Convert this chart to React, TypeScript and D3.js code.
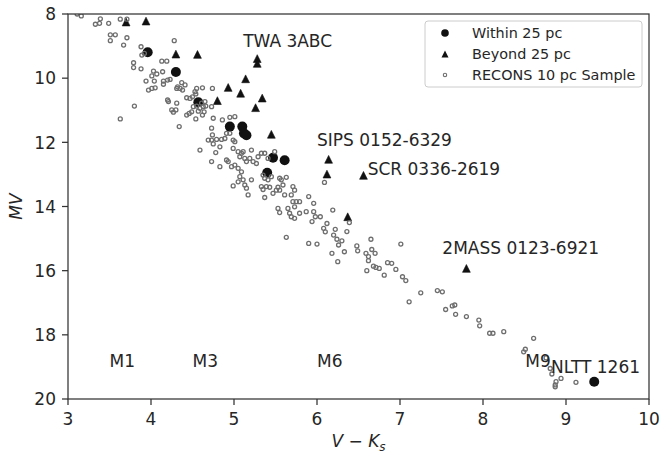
import React from 'react';
import * as d3 from 'd3';

const xTicks = [3, 4, 5, 6, 7, 8, 9, 10];
const yTicks = [8, 10, 12, 14, 16, 18, 20];

const withinPts: [number, number][] = [
  [3.96, 9.19], [4.30, 9.81], [4.57, 10.75], [4.95, 11.51], [5.10, 11.51],
  [5.12, 11.72], [5.15, 11.78], [5.47, 12.48], [5.61, 12.56], [5.40, 12.95],
  [9.34, 19.46],
];

const beyondPts: [number, number][] = [
  [3.70, 8.25], [3.94, 8.22], [4.30, 9.25], [4.56, 9.26], [5.28, 9.39], [5.28, 9.54],
  [4.93, 10.29], [5.14, 10.02], [5.08, 10.47], [5.34, 10.62], [5.26, 10.92],
  [4.80, 10.70], [5.45, 11.75], [6.14, 12.53], [6.12, 12.99], [6.56, 13.03],
  [6.37, 14.32], [7.80, 15.93],
];

const reconsPts: [number, number][] = [
  [3.11, 8.00], [3.16, 8.06], [3.33, 8.32], [3.38, 8.29], [3.39, 8.15], [3.49, 8.29],
  [3.63, 8.16], [3.71, 8.16], [3.51, 8.65], [3.51, 8.83], [3.57, 8.65], [3.67, 8.97],
  [3.71, 8.74], [3.88, 9.02], [3.89, 9.28], [3.92, 9.23], [3.79, 9.52], [3.79, 9.67],
  [3.88, 9.71], [3.94, 10.09], [3.97, 10.37], [4.01, 10.32], [4.05, 10.30], [4.04, 10.09],
  [4.03, 9.78], [4.01, 9.93], [4.07, 9.87], [4.13, 9.47], [4.19, 9.47], [4.14, 9.80],
  [4.15, 10.09], [4.15, 10.19], [4.20, 10.06], [4.23, 10.04], [4.28, 8.83], [3.80, 10.87],
  [3.63, 11.27], [4.32, 10.27], [4.31, 10.32], [4.37, 10.14], [4.35, 10.32], [4.38, 10.37],
  [4.41, 10.21], [4.20, 10.68], [4.21, 10.73], [4.25, 10.99], [4.27, 11.06], [4.30, 10.99],
  [4.31, 10.78], [4.34, 11.51], [4.43, 10.61], [4.47, 10.63], [4.50, 10.58], [4.53, 10.42],
  [4.54, 10.49], [4.55, 10.32], [4.62, 10.30], [4.43, 11.15], [4.46, 11.10], [4.49, 11.05],
  [4.51, 10.89], [4.55, 10.87], [4.57, 11.03], [4.59, 10.94], [4.62, 11.15], [4.64, 11.05],
  [4.63, 10.89], [4.65, 10.73], [4.61, 10.78], [4.66, 10.87], [4.73, 10.89], [4.74, 10.32],
  [4.54, 11.27],
  [4.75, 11.25], [4.73, 11.56], [4.86, 11.30], [4.95, 11.22], [5.01, 11.20], [4.74, 11.77],
  [4.69, 11.93], [4.73, 11.93], [4.79, 11.91], [4.75, 12.05], [4.83, 12.14], [4.85, 11.91],
  [4.89, 11.88], [4.91, 11.72], [4.95, 11.72], [4.99, 11.93], [5.01, 11.98], [4.99, 12.19],
  [5.05, 12.29], [5.09, 12.34], [5.11, 12.29], [5.07, 12.45], [5.13, 12.50], [5.15, 12.60],
  [5.19, 12.50], [5.21, 12.24], [5.23, 12.60], [5.27, 12.66], [5.29, 12.45], [5.33, 12.34],
  [5.37, 12.34], [5.41, 12.50], [5.49, 12.29], [5.35, 13.02], [5.37, 13.12], [5.41, 13.17],
  [5.45, 13.07], [5.55, 13.12], [5.57, 13.17], [5.63, 13.09], [4.59, 12.24], [4.78, 12.32],
  [4.73, 12.60], [4.83, 12.76], [4.91, 12.55], [4.93, 12.60], [4.97, 12.76], [5.01, 12.71],
  [5.05, 12.81], [5.09, 12.92], [5.07, 13.07], [5.11, 13.17], [5.05, 13.23], [4.99, 13.36],
  [5.13, 13.33], [5.15, 13.43], [5.17, 13.64], [5.21, 13.17], [5.33, 13.38], [5.35, 13.47],
  [5.39, 13.38], [5.43, 13.40], [5.37, 13.72], [5.47, 13.59], [5.51, 13.49], [5.53, 13.40],
  [5.55, 13.49], [5.59, 13.33], [5.61, 13.64], [5.71, 13.38], [5.73, 13.49], [5.69, 13.64],
  [5.75, 13.85], [5.79, 13.85], [5.71, 13.85], [5.73, 14.01], [5.90, 13.69], [5.96, 13.90],
  [5.53, 14.06], [5.55, 14.19], [5.65, 14.06], [5.67, 14.21], [5.69, 14.32], [5.73, 14.37],
  [5.79, 14.21], [5.87, 14.16], [5.96, 14.16], [5.98, 14.32], [6.04, 14.32], [5.94, 14.47],
  [6.19, 14.11], [6.12, 14.53], [6.08, 14.68], [6.10, 14.79], [5.63, 14.96], [5.90, 15.15],
  [6.00, 15.17], [6.09, 13.25],
  [6.39, 14.50], [6.22, 14.71], [6.20, 14.89], [6.24, 15.02], [6.26, 15.20], [6.18, 15.46],
  [6.30, 15.07], [6.25, 15.72], [6.33, 15.41], [6.36, 14.78], [6.48, 15.23], [6.49, 15.38],
  [6.59, 15.46], [6.62, 15.56], [6.65, 15.02], [6.66, 15.34], [6.70, 15.46], [6.62, 15.69],
  [6.68, 15.86], [6.71, 15.90], [6.75, 15.93], [6.60, 16.00], [6.81, 16.14], [6.85, 15.75],
  [6.90, 15.77], [6.95, 15.96], [7.01, 15.17], [7.03, 16.19], [7.07, 16.31], [7.11, 16.97],
  [7.25, 16.69], [7.45, 16.62], [7.51, 16.66], [7.55, 17.21], [7.63, 17.10], [7.66, 17.07],
  [7.67, 17.36], [7.80, 17.43], [7.95, 17.54], [7.96, 17.72], [8.08, 17.95], [8.12, 17.95],
  [8.25, 17.90], [8.61, 18.11], [8.49, 18.53], [8.51, 18.45], [8.76, 18.72], [8.81, 19.05],
  [8.83, 19.22], [8.94, 19.36], [8.88, 19.46], [8.87, 19.56], [8.87, 19.62], [9.12, 19.48],
];

const starLabels = [
  { text: 'TWA 3ABC', x: 5.11, y: 9.03 },
  { text: 'SIPS 0152-6329', x: 6.0, y: 12.11 },
  { text: 'SCR 0336-2619', x: 6.61, y: 13.02 },
  { text: '2MASS 0123-6921', x: 7.51, y: 15.49 },
  { text: 'NLTT 1261', x: 8.82, y: 19.2 },
];

const spectralLabels = [
  { text: 'M1', x: 3.5, y: 19.0 },
  { text: 'M3', x: 4.5, y: 19.0 },
  { text: 'M6', x: 6.0, y: 19.0 },
  { text: 'M9', x: 8.51, y: 19.0 },
];

const legendItems = ['Within 25 pc', 'Beyond 25 pc', 'RECONS 10 pc Sample'];

const W = 660, H = 453;
const L = 68, R = 649, T = 14, B = 399;
const FONT = "'DejaVu Sans', sans-serif";
const INK = '#262626';
const SPINE = '#333333';
const HOLLOW = '#6e6e6e';

function tri(cx: number, cy: number, h: number) {
  return `M${cx},${cy - h}L${cx - h},${cy + h}L${cx + h},${cy + h}Z`;
}

export default function App() {
  const x = d3.scaleLinear().domain([3, 10]).range([L, R]);
  const y = d3.scaleLinear().domain([8, 20]).range([T, B]);
  return (
    <div>
      <style>{`body{margin:0}`}</style>
      <svg width={W} height={H} style={{ display: 'block', background: '#fff' }} fontFamily={FONT}>
        <defs>
          <clipPath id="plotclip">
            <rect x={L} y={T} width={R - L} height={B - T} />
          </clipPath>
        </defs>
        <g clipPath="url(#plotclip)">
          {withinPts.map((d, i) => (
            <circle key={'w' + i} cx={x(d[0])} cy={y(d[1])} r={5} fill="#111" />
          ))}
          {beyondPts.map((d, i) => (
            <path key={'b' + i} d={tri(x(d[0]), y(d[1]), 3.9)} fill="#111" stroke="#111" strokeWidth={0.6} />
          ))}
          {reconsPts.map((d, i) => (
            <circle key={'r' + i} cx={x(d[0])} cy={y(d[1])} r={2.0} fill="none" stroke={HOLLOW} strokeWidth={1.3} />
          ))}
        </g>
        {starLabels.map((a, i) => (
          <text key={'a' + i} x={x(a.x)} y={y(a.y)} fontSize={17} fill={INK}>{a.text}</text>
        ))}
        {spectralLabels.map((a, i) => (
          <text key={'m' + i} x={x(a.x)} y={y(a.y)} fontSize={17} fill={INK}>{a.text}</text>
        ))}
        <rect x={L} y={T} width={R - L} height={B - T} fill="none" stroke={SPINE} strokeWidth={1.25} />
        {xTicks.map((t) => (
          <g key={'xt' + t}>
            <line x1={x(t)} x2={x(t)} y1={B} y2={B + 6} stroke={SPINE} strokeWidth={1.25} />
            <text x={x(t)} y={B + 26} fontSize={17} fill={INK} textAnchor="middle">{t}</text>
          </g>
        ))}
        {yTicks.map((t) => (
          <g key={'yt' + t}>
            <line x1={L - 6} x2={L} y1={y(t)} y2={y(t)} stroke={SPINE} strokeWidth={1.25} />
            <text x={L - 12} y={y(t) + 6.2} fontSize={17} fill={INK} textAnchor="end">{t}</text>
          </g>
        ))}
        <text x={(L + R) / 2} y={447} fontSize={17} fill={INK} textAnchor="middle">
          <tspan fontStyle="italic">V</tspan>
          <tspan> − </tspan>
          <tspan fontStyle="italic">K</tspan>
          <tspan fontStyle="italic" fontSize={12} dy={3.5}>s</tspan>
        </text>
        <text transform={`translate(22,${(T + B) / 2}) rotate(-90)`} fontSize={17} fill={INK} textAnchor="middle" fontStyle="italic">MV</text>
        <rect x={425} y={21} width={217} height={66} rx={3} fill="#fff" fillOpacity={0.8} stroke="#cccccc" strokeWidth={1} />
        <circle cx={445} cy={33} r={3.8} fill="#111" />
        <path d={tri(445, 54, 3.5)} fill="#111" />
        <circle cx={445} cy={75} r={1.7} fill="none" stroke={HOLLOW} strokeWidth={1.1} />
        {legendItems.map((t, i) => (
          <text key={'l' + i} x={472} y={38 + i * 21} fontSize={14.4} fill={INK}>{t}</text>
        ))}
      </svg>
    </div>
  );
}
